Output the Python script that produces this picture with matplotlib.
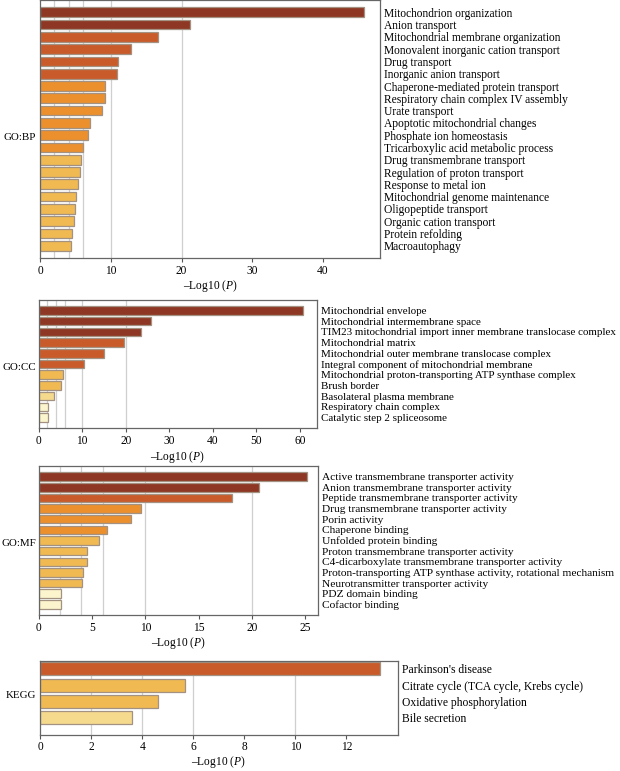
import matplotlib
matplotlib.use("Agg")
import matplotlib.pyplot as plt
import numpy as np

plt.rcParams['font.family'] = ['Liberation Serif', 'DejaVu Serif']
plt.rcParams['mathtext.fontset'] = 'custom'
plt.rcParams['mathtext.rm'] = 'Liberation Serif'
plt.rcParams['mathtext.it'] = 'Liberation Serif:italic'

# -Log10(P) values
bp_terms = ["Mitochondrion organization", "Anion transport",
            "Mitochondrial membrane organization",
            "Monovalent inorganic cation transport", "Drug transport",
            "Inorganic anion transport", "Chaperone-mediated protein transport",
            "Respiratory chain complex IV assembly", "Urate transport",
            "Apoptotic mitochondrial changes", "Phosphate ion homeostasis",
            "Tricarboxylic acid metabolic process", "Drug transmembrane transport",
            "Regulation of proton transport", "Response to metal ion",
            "Mitochondrial genome maintenance", "Oligopeptide transport",
            "Organic cation transport", "Protein refolding", "Macroautophagy"]
bp_vals = [45.9, 21.2, 16.6, 12.8, 11.0, 10.9, 9.2, 9.15, 8.8, 7.1,
           6.8, 6.1, 5.8, 5.6, 5.4, 5.0, 4.9, 4.8, 4.5, 4.3]

cc_terms = ["Mitochondrial envelope", "Mitochondrial intermembrane space",
            "TIM23 mitochondrial import inner membrane translocase complex",
            "Mitochondrial matrix",
            "Mitochondrial outer membrane translocase complex",
            "Integral component of mitochondrial membrane",
            "Mitochondrial proton-transporting ATP synthase complex",
            "Brush border", "Basolateral plasma membrane",
            "Respiratory chain complex", "Catalytic step 2 spliceosome"]
cc_vals = [60.7, 25.8, 23.6, 19.7, 15.1, 10.5, 5.5, 5.2, 3.4, 2.1, 2.1]

mf_terms = ["Active transmembrane transporter activity",
            "Anion transmembrane transporter activity",
            "Peptide transmembrane transporter activity",
            "Drug transmembrane transporter activity", "Porin activity",
            "Chaperone binding", "Unfolded protein binding",
            "Proton transmembrane transporter activity",
            "C4-dicarboxylate transmembrane transporter activity",
            "Proton-transporting ATP synthase activity, rotational mechanism",
            "Neurotransmitter transporter activity", "PDZ domain binding",
            "Cofactor binding"]
mf_vals = [25.2, 20.7, 18.1, 9.55, 8.7, 6.45, 5.7, 4.55, 4.5, 4.15, 4.1, 2.1, 2.1]

kegg_terms = ["Parkinson's disease", "Citrate cycle (TCA cycle, Krebs cycle)",
              "Oxidative phosphorylation", "Bile secretion"]
kegg_vals = [13.33, 5.66, 4.62, 3.6]

# colour bins on -Log10(P)
bins = [3, 4, 6, 10, 20]
bin_colors = ["#FBF4CC", "#F5D98C", "#F0B952", "#EB902D", "#C95B2A", "#8E3724"]
grid_at = [2, 4, 6, 10, 20]

W, H = 620, 771
fig = plt.figure(figsize=(6.2, 7.71), dpi=100)

# (name, terms, values, xmax, xstep, pixel box left/top/right/bottom, label y, term font)
panels = [
    ("GO:BP", bp_terms, bp_vals, 48.1, 10, (40.3, 0.0, 380, 258), 137, 8.3),
    ("GO:CC", cc_terms, cc_vals, 63.8, 10, (38.7, 299.7, 316.5, 428.3), 367, 7.9),
    ("GO:MF", mf_terms, mf_vals, 26.2, 5, (38.7, 466, 318, 615), 544, 8.2),
    ("KEGG", kegg_terms, kegg_vals, 14.0, 2, (40.3, 661.0, 397.5, 734.5), 695, 8.4),
]

for name, terms, vals, xmax, step, box, ly, fs in panels:
    l, t, r, b = box
    ax = fig.add_axes([l / W, 1 - b / H, (r - l) / W, (b - t) / H])
    n = len(vals)
    y = np.arange(n)
    colors = [bin_colors[np.searchsorted(bins, v, side='right')] for v in vals]
    for g in grid_at:
        if g < xmax:
            ax.axvline(g, color="#cfcfcf", lw=0.9, zorder=0)
    ax.barh(y, vals, height=0.8, color=colors, edgecolor="#a39282",
            linewidth=0.9, zorder=2)
    ax.set_xlim(0, xmax)
    if name == "KEGG":
        ax.set_ylim(n - 1 + 1.04, -0.49)
    else:
        ax.set_ylim(n, -1)
    ax.set_xticks(np.arange(0, xmax, step))
    ax.tick_params(axis='x', labelsize=8.3, length=3, width=0.8,
                   color="#555555", pad=2)
    ax.yaxis.tick_right()
    ax.set_yticks(y)
    ax.set_yticklabels(terms, fontsize=fs)
    ax.tick_params(axis='y', length=0, pad=3)
    for s in ax.spines.values():
        s.set_color("#666666")
        s.set_linewidth(0.9)
    ax.set_xlabel("\u2013Log10 ($P$)", fontsize=8.3, labelpad=1)
    if name == "KEGG":
        # keep the bottom label inside the figure
        ax.xaxis.set_label_coords(0.5, -(754 - b) / (b - t))
    fig.text(36 / W, 1 - ly / H, name, ha='right', va='center', fontsize=7.9)

fig.savefig("out.png", dpi=100)
